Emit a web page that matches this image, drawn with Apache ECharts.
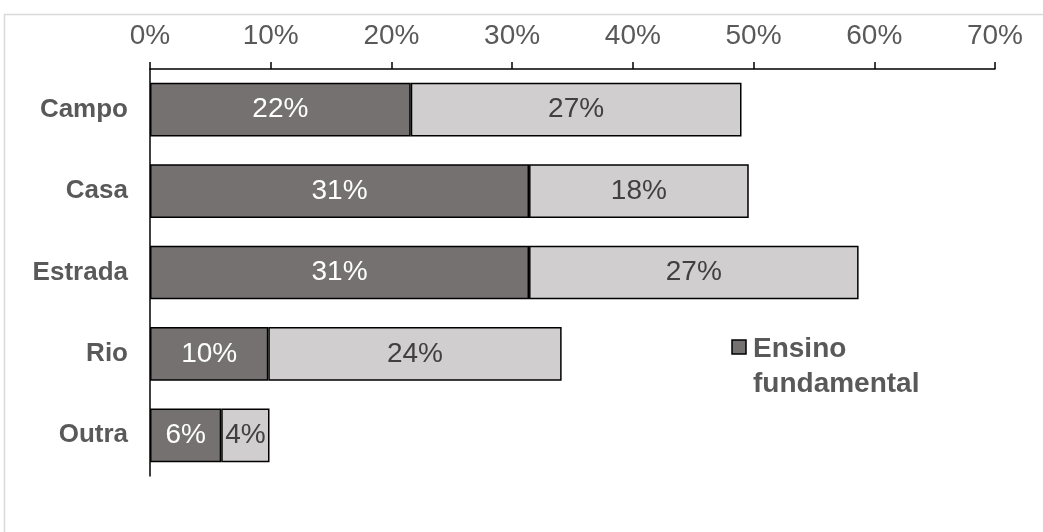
<!DOCTYPE html>
<html>
<head>
<meta charset="utf-8">
<script src="https://cdn.jsdelivr.net/npm/echarts@6/dist/echarts.min.js"></script>
<style>
html,body{margin:0;padding:0;background:#fff;}
#chart{width:1043px;height:532px;}
</style>
</head>
<body>
<div id="chart"></div>
<script>
const categories = ['Campo', 'Casa', 'Estrada', 'Rio', 'Outra'];
const seriesNames = ['Ensino fundamental', 'Ensino médio'];
const fundamental = [21.6, 31.4, 31.4, 9.8, 5.9];
const medio = [27.4, 18.2, 27.3, 24.3, 4.0];
const xTicks = [0, 10, 20, 30, 40, 50, 60, 70];
const legendLabel = 'Ensino\nfundamental';

const chart = echarts.init(document.getElementById('chart'), null, {renderer: 'canvas'});
const font = 'Liberation Sans, Arial, sans-serif';
const darkColor = '#767171';
const lightColor = '#D0CECE';
chart.setOption({
  animation: false,
  backgroundColor: '#fff',
  graphic: [{
    type: 'rect',
    shape: {x: 4.5, y: 14.5, width: 1200, height: 800},
    style: {fill: 'none', stroke: '#D9D9D9', lineWidth: 1.5},
    silent: true
  }, {
    type: 'rect',
    shape: {x: 732, y: 340, width: 14, height: 14},
    style: {fill: darkColor, stroke: '#000', lineWidth: 1.5},
    silent: true
  }, {
    type: 'text',
    left: 753, top: 331.5,
    style: {text: legendLabel, font: 'bold 28px ' + font, fill: '#595959', lineHeight: 35},
    silent: true
  }],
  legend: {show: false},
  grid: {left: 150, right: 48, top: 69, bottom: 56, containLabel: false},
  xAxis: {
    type: 'value',
    position: 'top',
    min: xTicks[0], max: xTicks[xTicks.length - 1], interval: 10,
    axisLine: {show: true, lineStyle: {color: '#000', width: 1.5}},
    axisTick: {show: true, length: 7, lineStyle: {color: '#000', width: 1.5}},
    splitLine: {show: false},
    axisLabel: {formatter: v => v + '%', fontFamily: font, fontSize: 28, color: '#595959', margin: 19}
  },
  yAxis: {
    type: 'category',
    data: categories,
    inverse: true,
    axisLine: {show: true, lineStyle: {color: '#000', width: 1.5}},
    axisTick: {show: false},
    axisLabel: {fontFamily: font, fontSize: 26, fontWeight: 'bold', color: '#595959', margin: 22}
  },
  series: [{
    name: seriesNames[0],
    type: 'bar', stack: 'total',
    data: fundamental,
    barWidth: '66%',
    itemStyle: {color: darkColor, borderColor: '#000', borderWidth: 1.5},
    label: {show: true, position: 'inside', formatter: p => Math.round(p.value) + '%', fontFamily: font, fontSize: 28, color: '#fff'}
  }, {
    name: seriesNames[1],
    type: 'bar', stack: 'total',
    data: medio,
    barWidth: '66%',
    itemStyle: {color: lightColor, borderColor: '#000', borderWidth: 1.5},
    label: {show: true, position: 'inside', formatter: p => Math.round(p.value) + '%', fontFamily: font, fontSize: 28, color: '#404040'}
  }]
});
</script>
</body>
</html>
